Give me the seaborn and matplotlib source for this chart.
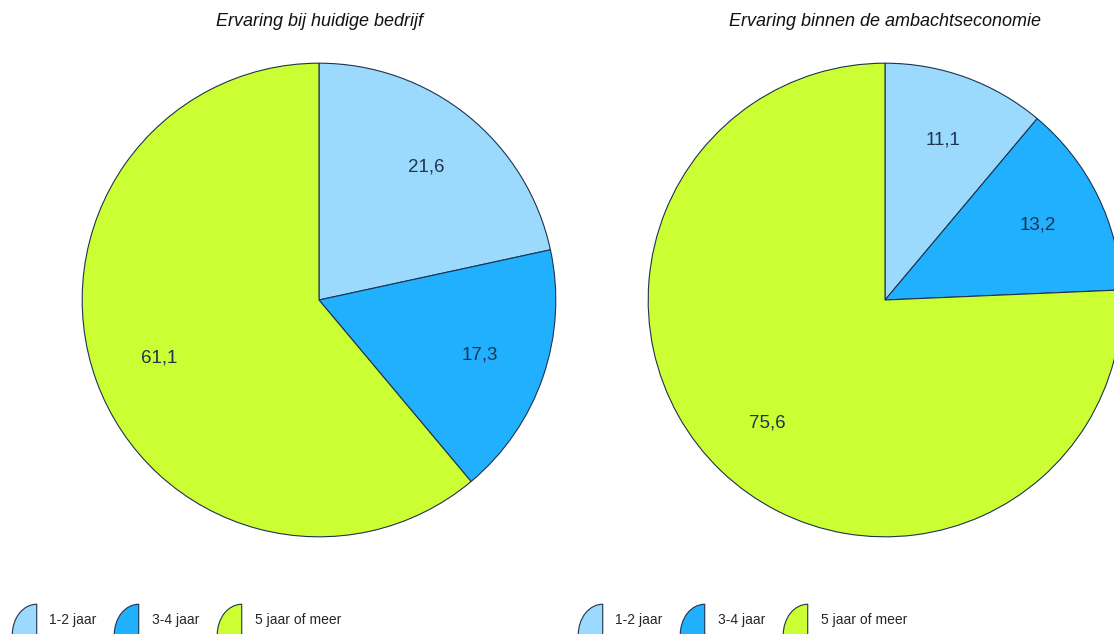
import matplotlib.pyplot as plt
import seaborn as sns
from matplotlib.lines import Line2D
from matplotlib.path import Path

categories = ['1-2 jaar', '3-4 jaar', '5 jaar of meer']
bedrijf = [21.6, 17.3, 61.1]
ambacht = [11.1, 13.2, 75.6]
titles = ['Ervaring bij huidige bedrijf', 'Ervaring binnen de ambachtseconomie']

sns.set_theme(style='white')
plt.rcParams['font.family'] = ['Liberation Sans', 'DejaVu Sans']

colors = ['#9CDAFD', '#20B0FE', '#CCFF33']
edge = '#1E3350'

fig = plt.figure(figsize=(11.14, 6.34), dpi=100)
W, H = 1114, 634
R = 238

# legend marker: quarter wedge, a bit taller than wide, centred on origin
_w = Path.wedge(90, 180)
legend_marker = Path(_w.vertices * [1, 1.25] + [0.5, -0.625], _w.codes)


def draw_pie(cx, cy, values, title, legend_x):
    ax = fig.add_axes([(cx - R) / W, (H - cy - R) / H, 2 * R / W, 2 * R / H])
    wedges, texts, autotexts = ax.pie(
        values, colors=colors, startangle=90, counterclock=False,
        radius=0.995, autopct=lambda p: '', pctdistance=0.72,
        wedgeprops=dict(edgecolor=edge, linewidth=0.8))
    for t, v in zip(autotexts, values):
        t.set_text(f'{v:.1f}'.replace('.', ','))
        t.set_fontsize(13.5)
        t.set_color('#1F3550')
    for w in wedges:
        w.set_clip_on(False)
    ax.set_xlim(-1, 1)
    ax.set_ylim(-1, 1)
    ax.set_aspect('equal')
    ax.axis('off')
    fig.text(cx / W, 1 - 21 / H, title, ha='center', va='center',
             fontsize=13, style='italic', color='#111111')
    handles = [Line2D([], [], linestyle='none', marker=legend_marker, markersize=22,
                      markerfacecolor=c, markeredgecolor=edge, markeredgewidth=0.8)
               for c in colors]
    fig.legend(handles, categories, loc='center left',
               bbox_to_anchor=(legend_x / W, 1 - 620 / H), ncol=3, frameon=False,
               borderpad=0, borderaxespad=0,
               handlelength=1.8, handletextpad=0.95, columnspacing=1.25,
               prop={'family': ['Liberation Sans Narrow', 'Liberation Sans'], 'size': 10})
    return ax


draw_pie(319, 300, bedrijf, titles[0], 11)
draw_pie(885, 300, ambacht, titles[1], 577)

fig.savefig('out.png', dpi=100)
